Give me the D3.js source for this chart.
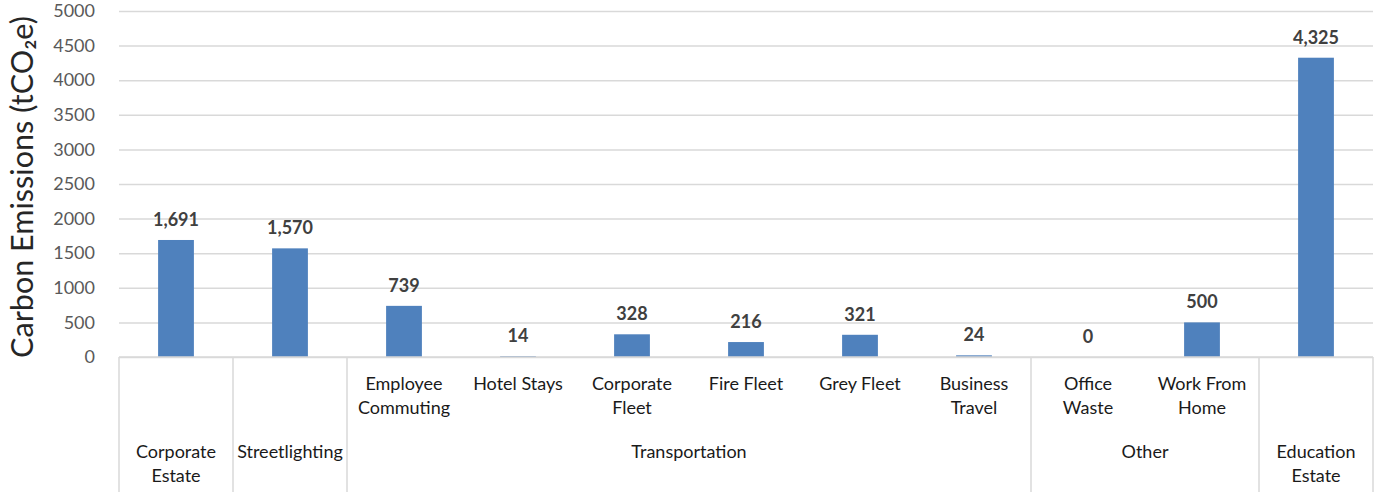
<!DOCTYPE html>
<html>
<head>
<meta charset="utf-8">
<script src="https://cdn.jsdelivr.net/npm/d3@7"></script>
<style>
  html, body { margin: 0; padding: 0; background: #fff; }
  svg { display: block; }
  text { font-family: Lato, "Open Sans", sans-serif; }
</style>
</head>
<body>
<svg id="chart" width="1374" height="492"></svg>
<script>
// ---- data ----
const subCategories = ["", "", "Employee\nCommuting", "Hotel Stays", "Corporate\nFleet", "Fire Fleet", "Grey Fleet", "Business\nTravel", "Office\nWaste", "Work From\nHome", ""];
const groupLabels = ["Corporate\nEstate", "Streetlighting", "Transportation", "Other", "Education\nEstate"];
const groupIndex = [0, 1, 2, 2, 2, 2, 2, 2, 3, 3, 4];
const values = [1691, 1570, 739, 14, 328, 216, 321, 24, 0, 500, 4325];
const yTicks = [0, 500, 1000, 1500, 2000, 2500, 3000, 3500, 4000, 4500, 5000];
const yTitle = "Carbon Emissions (tCO\u2082e)";

// ---- layout ----
const W = 1374, H = 492;
const plot = { left: 119, right: 1373, top: 11, bottom: 357 };
const svg = d3.select("#chart");

const idx = d3.range(values.length);
const xSlot = d3.scaleBand().domain(idx).range([plot.left, plot.right]).padding(0);
const xBar = d3.scaleBand().domain(idx).range([plot.left, plot.right])
  .paddingInner(0.686).paddingOuter(0.343);
const y = d3.scaleLinear().domain([0, 5000]).range([plot.bottom, plot.top]);

const gridColor = "#d9d9d9";

// gridlines + tick labels
const yAxis = d3.axisLeft(y).tickValues(yTicks).tickFormat(d3.format("d"))
  .tickSize(-(plot.right - plot.left)).tickPadding(24);
const gy = svg.append("g").attr("transform", `translate(${plot.left},0)`).call(yAxis);
gy.select(".domain").remove();
gy.selectAll(".tick line").attr("stroke", gridColor).attr("stroke-width", 1.5);
gy.selectAll(".tick text")
  .attr("fill", "#595959")
  .style("font-size", "18px")
  .style("font-family", "Lato, sans-serif");

// bars
svg.append("g").selectAll("rect").data(values).join("rect")
  .attr("x", (d, i) => xBar(i))
  .attr("width", xBar.bandwidth())
  .attr("y", d => y(d))
  .attr("height", d => y(0) - y(d))
  .attr("fill", "#4f81bd");

// data labels
svg.append("g").selectAll("text").data(values).join("text")
  .attr("x", (d, i) => xBar(i) + xBar.bandwidth() / 2)
  .attr("y", d => y(d) - 14)
  .attr("text-anchor", "middle")
  .attr("fill", "#404040")
  .style("font-size", "18px")
  .style("font-weight", "bold")
  .text(d => d3.format(",")(d));

// category axis
const axisG = svg.append("g");
axisG.append("line")
  .attr("x1", plot.left).attr("x2", plot.right)
  .attr("y1", plot.bottom).attr("y2", plot.bottom)
  .attr("stroke", gridColor).attr("stroke-width", 1.5);

// group spans
const groups = groupLabels.map((g, gi) => {
  const members = idx.filter(i => groupIndex[i] === gi);
  const x0 = xSlot(members[0]);
  const x1 = xSlot(members[members.length - 1]) + xSlot.bandwidth();
  return { label: g, x0, x1 };
});
const boundaries = [plot.left].concat(groups.map(g => g.x1));
axisG.selectAll("line.sep").data(boundaries).join("line")
  .attr("class", "sep")
  .attr("x1", d => d).attr("x2", d => d)
  .attr("y1", plot.bottom).attr("y2", H)
  .attr("stroke", gridColor).attr("stroke-width", 1.5);

function multiline(sel, str, lineH) {
  const lines = str.split("\n");
  lines.forEach((l, k) => {
    sel.append("tspan").attr("x", sel.attr("x")).attr("dy", k === 0 ? 0 : lineH).text(l);
  });
}

// sub-category labels
idx.forEach(i => {
  if (!subCategories[i]) return;
  const t = axisG.append("text")
    .attr("x", xSlot(i) + xSlot.bandwidth() / 2)
    .attr("y", 390)
    .attr("text-anchor", "middle")
    .attr("fill", "#1a1a1a")
    .style("font-size", "18px");
  multiline(t, subCategories[i], 24);
});

// group labels
groups.forEach(g => {
  const t = axisG.append("text")
    .attr("x", (g.x0 + g.x1) / 2)
    .attr("y", 458)
    .attr("text-anchor", "middle")
    .attr("fill", "#1a1a1a")
    .style("font-size", "18px");
  multiline(t, g.label, 24);
});

// y-axis title
const title = svg.append("text")
  .attr("transform", `translate(33,${(plot.top + plot.bottom) / 2 + 3}) rotate(-90)`)
  .attr("text-anchor", "middle")
  .attr("fill", "#262626")
  .style("font-size", "28px")
  .text(yTitle);
// fit title length to the reference span
const len = title.node().getComputedTextLength();
title.style("font-size", (28 * 342 / len) + "px");
</script>
</body>
</html>
